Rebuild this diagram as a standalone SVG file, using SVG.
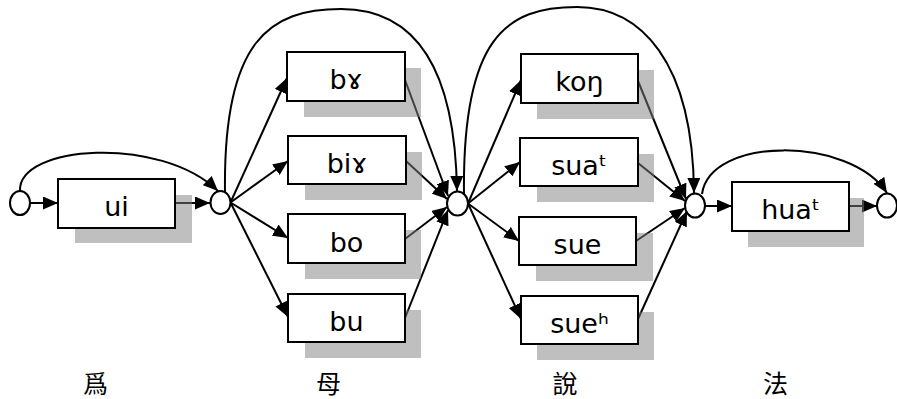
<svg xmlns="http://www.w3.org/2000/svg" width="897" height="399" viewBox="0 0 897 399">
<style>
  .box { fill: #ffffff; stroke: #000000; stroke-width: 2; }
  .shadow { fill: #808080; fill-opacity: 0.5; }
  .state { fill: #ffffff; stroke: #000000; stroke-width: 2; }
  .lbl { font-family: "DejaVu Sans", "Liberation Sans", sans-serif; font-size: 27px; text-anchor: middle; fill: #000000; }
  .han { font-family: "Noto Sans CJK TC", "Noto Sans CJK SC", sans-serif; font-size: 25px; text-anchor: middle; fill: #000000; }
  .edge { fill: none; stroke: #000000; stroke-width: 2; marker-end: url(#arrow); }
</style>
<defs>
  <marker id="arrow" markerUnits="userSpaceOnUse" markerWidth="15" markerHeight="13" viewBox="0 0 15 13" refX="15" refY="6.5" orient="auto">
    <path d="M0,0 L15,6.5 L0,13 z" fill="#000000"/>
  </marker>
</defs>
<rect width="897" height="399" fill="#ffffff"/>

<g id="connectors">
  <path class="edge" d="M30 203 L58 203"/>
  <path class="edge" d="M175 203 L210 203"/>
  <path class="edge" d="M20 191 C18 145, 160 135, 218 191"/>
  <path class="edge" d="M230.5 202.5 L287 78"/>
  <path class="edge" d="M230.5 202.5 L288 161"/>
  <path class="edge" d="M230.5 202.5 L288 238"/>
  <path class="edge" d="M230.5 202.5 L288 317"/>
  <path class="edge" d="M225 192 C223 40, 270 9, 341 9 C410 9, 455 60, 457 191"/>
  <path class="edge" d="M405 80 L448 196"/>
  <path class="edge" d="M406 161 L447 199"/>
  <path class="edge" d="M405 239 L447 207"/>
  <path class="edge" d="M405 318 L448 210"/>
  <path class="edge" d="M468 203.5 L521 80"/>
  <path class="edge" d="M468 203.5 L520 162"/>
  <path class="edge" d="M468 203.5 L519 241"/>
  <path class="edge" d="M468 203.5 L521 319"/>
  <path class="edge" d="M464 195 C462 38, 506 7, 577 7 C640 7, 693 60, 694 193"/>
  <path class="edge" d="M638 81 L686 199"/>
  <path class="edge" d="M638 163 L685 201"/>
  <path class="edge" d="M636 241 L685 208"/>
  <path class="edge" d="M638 319 L687 211"/>
  <path class="edge" d="M705 206 L732 206"/>
  <path class="edge" d="M702 194 C710 136, 850 136, 887 193"/>
  <path class="edge" d="M849 206 L877 206"/>
</g>

<g id="s0"><ellipse class="state" cx="20" cy="203" rx="10" ry="12"/></g>
<g id="s1"><ellipse class="state" cx="220.5" cy="202.5" rx="10" ry="11.5"/></g>
<g id="s2"><ellipse class="state" cx="457.5" cy="203.5" rx="10.5" ry="12"/></g>
<g id="s3"><ellipse class="state" cx="695" cy="205.5" rx="10" ry="12"/></g>
<g id="s4"><ellipse class="state" cx="887" cy="205.5" rx="10" ry="12"/></g>

<g id="n-ui">
  <rect class="shadow" x="75" y="195" width="117" height="48"/>
  <rect class="box" x="58" y="179" width="117" height="49"/>
  <text class="lbl" x="116.5" y="216">ui</text>
</g>
<g id="n-bx">
  <rect class="shadow" x="304" y="68" width="117" height="49"/>
  <rect class="box" x="287" y="52" width="118" height="49"/>
  <text class="lbl" x="346" y="89">bɤ</text>
</g>
<g id="n-bix">
  <rect class="shadow" x="305" y="152" width="117" height="48"/>
  <rect class="box" x="288" y="136" width="118" height="48"/>
  <text class="lbl" x="347" y="172.5">biɤ</text>
</g>
<g id="n-bo">
  <rect class="shadow" x="305" y="230" width="116" height="49"/>
  <rect class="box" x="288" y="214" width="117" height="49"/>
  <text class="lbl" x="346.5" y="251.5">bo</text>
</g>
<g id="n-bu">
  <rect class="shadow" x="305" y="310" width="116" height="48"/>
  <rect class="box" x="288" y="294" width="117" height="48"/>
  <text class="lbl" x="346.5" y="330.5">bu</text>
</g>
<g id="n-kong">
  <rect class="shadow" x="537" y="70" width="117" height="49"/>
  <rect class="box" x="521" y="54" width="117" height="49"/>
  <text class="lbl" x="579.5" y="91">koŋ</text>
</g>
<g id="n-suat">
  <rect class="shadow" x="537" y="154" width="117" height="48"/>
  <rect class="box" x="520" y="138" width="118" height="48"/>
  <text class="lbl" x="579" y="174.5">suaᵗ</text>
</g>
<g id="n-sue">
  <rect class="shadow" x="536" y="233" width="117" height="48"/>
  <rect class="box" x="519" y="217" width="117" height="48"/>
  <text class="lbl" x="577.5" y="253.5">sue</text>
</g>
<g id="n-sueh">
  <rect class="shadow" x="537" y="312" width="117" height="48"/>
  <rect class="box" x="521" y="296" width="117" height="48"/>
  <text class="lbl" x="579.5" y="332.5">sueʰ</text>
</g>
<g id="n-huat">
  <rect class="shadow" x="748" y="198" width="116" height="49"/>
  <rect class="box" x="732" y="182" width="117" height="49"/>
  <text class="lbl" x="790.5" y="219">huaᵗ</text>
</g>

<g id="glosses">
  <text class="han" x="95.5" y="393">爲</text>
  <text class="han" x="328.5" y="393">母</text>
  <text class="han" x="565" y="393">說</text>
  <text class="han" x="775.5" y="393">法</text>
</g>
</svg>
